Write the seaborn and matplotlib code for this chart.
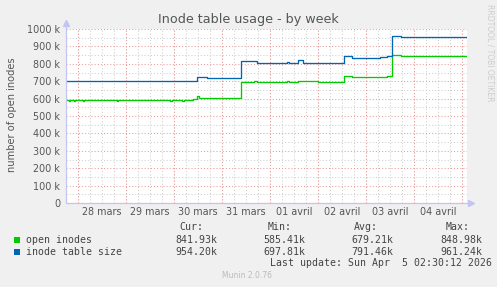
import matplotlib
matplotlib.use("Agg")
import matplotlib.pyplot as plt
from matplotlib.patches import Rectangle
from matplotlib.ticker import MultipleLocator
import seaborn as sns

# ---- data (x: days since 28 mars 00:00, y: thousands) ----
green_days = [-0.25, -0.19, -0.16, -0.09, -0.06, 0.10, 0.13, 0.81, 0.84, 1.92, 1.95,
              2.17, 2.20, 2.40, 2.48, 2.52, 3.40, 3.67, 3.73, 4.36, 4.40, 4.58, 4.69,
              5.00, 5.55, 5.71, 6.44, 6.55, 6.73, 8.104]
green_vals = [590, 586, 590, 586, 590, 587, 590, 586, 590, 586, 590,
              586, 590, 596, 614, 606, 697, 702, 695, 699, 694, 702, 699,
              694, 729, 722, 729, 849, 843, 843]
blue_days = [-0.25, 2.40, 2.48, 2.69, 3.40, 3.73, 4.36, 4.40, 4.58, 4.69,
             5.55, 5.71, 6.19, 6.25, 6.29, 6.44, 6.55, 6.73, 8.104]
blue_vals = [700, 703, 722, 717, 815, 807, 813, 807, 820, 807,
             843, 831, 836, 832, 837, 844, 961, 956, 955]

day_labels = ["28 mars", "29 mars", "30 mars", "31 mars",
              "01 avril", "02 avril", "03 avril", "04 avril"]
y_ticks = [0, 100, 200, 300, 400, 500, 600, 700, 800, 900, 1000]
y_tick_labels = ["0", "100 k", "200 k", "300 k", "400 k", "500 k",
                 "600 k", "700 k", "800 k", "900 k", "1000 k"]
legend_names = ["open inodes", "inode table size"]
legend_cur = ["841.93k", "954.20k"]
legend_min = ["585.41k", "697.81k"]
legend_avg = ["679.21k", "791.46k"]
legend_max = ["848.98k", "961.24k"]
series_colors = ["#00CC00", "#0066B3"]

W, H = 497, 287
def fx(x): return x / W
def fy(y): return 1 - y / H

sns.set_theme(style="white")
plt.rcParams['font.family'] = ['DejaVu Sans']

fig = plt.figure(figsize=(W / 100, H / 100), dpi=100, facecolor="#F0F0F0")
ax = fig.add_axes([fx(66), fy(203), 401 / W, 174 / H])
ax.set_facecolor("white")

sns.lineplot(x=green_days, y=green_vals, ax=ax, color=series_colors[0],
             drawstyle="steps-post", linewidth=0.95, estimator=None, sort=False, zorder=5)
sns.lineplot(x=blue_days, y=blue_vals, ax=ax, color=series_colors[1],
             drawstyle="steps-post", linewidth=0.95, estimator=None, sort=False, zorder=5)

ax.set_xlim(-0.25, 8.104)
ax.set_ylim(0, 1000)
ax.set_yticks(y_ticks)
ax.set_yticklabels(y_tick_labels)
ax.yaxis.set_minor_locator(MultipleLocator(50))
ax.set_xticks([i + 0.5 for i in range(len(day_labels))])
ax.set_xticklabels(day_labels)
ax.xaxis.set_minor_locator(MultipleLocator(0.25))
ax.xaxis.remove_overlapping_locs = False

dot = (0, (1, 2))
ax.set_axisbelow(True)
ax.grid(False)
ax.xaxis.grid(True, which="minor", color="#CFCFCF", linestyle=dot, linewidth=0.75)
ax.yaxis.grid(True, which="minor", color="#CFCFCF", linestyle=dot, linewidth=0.75)
ax.yaxis.grid(True, which="major", color="#EE9A9A", linestyle=dot, linewidth=0.75)
for d in range(0, 9):
    ax.axvline(d, color="#EE9A9A", linestyle=dot, linewidth=0.75, zorder=1)

ax.tick_params(axis="both", which="both", length=0, labelsize=6.9, colors="#555555")
ax.tick_params(axis="y", pad=4.3)
ax.tick_params(axis="x", pad=3.2)
ax.set_xlabel("")
ax.set_ylabel("")
for s in ax.spines.values():
    s.set_visible(False)

axis_col = "#C4C4F4"
ax.plot([0, 0], [0, 1.035], transform=ax.transAxes, color=axis_col, lw=0.9, clip_on=False, zorder=6)
ax.plot([0, 1.01], [0, 0], transform=ax.transAxes, color=axis_col, lw=0.9, clip_on=False, zorder=6)
ax.plot([0], [1.035], transform=ax.transAxes, marker="^", color=axis_col, ms=4, clip_on=False, zorder=6)
ax.plot([1.01], [0], transform=ax.transAxes, marker=">", color=axis_col, ms=4, clip_on=False, zorder=6)

# titles
fig.text(fx(248), fy(19), "Inode table usage - by week", ha="center", va="center",
         fontsize=9.2, color="#555555")
fig.text(fx(12), fy(115), "number of open inodes", ha="center", va="center",
         rotation=90, fontsize=7.1, color="#555555")
fig.text(fx(490), fy(53), "RRDTOOL / TOBI OETIKER", ha="center", va="center",
         rotation=270, fontsize=5.5, color="#CCCCCC")

# legend block
mono = dict(family="DejaVu Sans Mono", fontsize=7.1, color="#444444", va="center")
fig.text(fx(203), fy(227.5), "Cur:", ha="right", **mono)
fig.text(fx(292), fy(227.5), "Min:", ha="right", **mono)
fig.text(fx(378), fy(227.5), "Avg:", ha="right", **mono)
fig.text(fx(470), fy(227.5), "Max:", ha="right", **mono)
rows_y = [240, 252]
for i in range(2):
    y = rows_y[i]
    fig.patches.append(Rectangle((fx(14), fy(y + 3)), 6 / W, 6 / H, transform=fig.transFigure,
                                 facecolor=series_colors[i], edgecolor="none"))
    fig.text(fx(26.5), fy(y), legend_names[i], ha="left", **mono)
    fig.text(fx(217), fy(y), legend_cur[i], ha="right", **mono)
    fig.text(fx(305), fy(y), legend_min[i], ha="right", **mono)
    fig.text(fx(393), fy(y), legend_avg[i], ha="right", **mono)
    fig.text(fx(482), fy(y), legend_max[i], ha="right", **mono)
fig.text(fx(492), fy(263), "Last update: Sun Apr  5 02:30:12 2026", ha="right", **mono)
fig.text(fx(247), fy(276), "Munin 2.0.76", ha="center", va="center", fontsize=5.5, color="#BBBBBB")

fig.savefig("out.png", dpi=100, facecolor=fig.get_facecolor())
